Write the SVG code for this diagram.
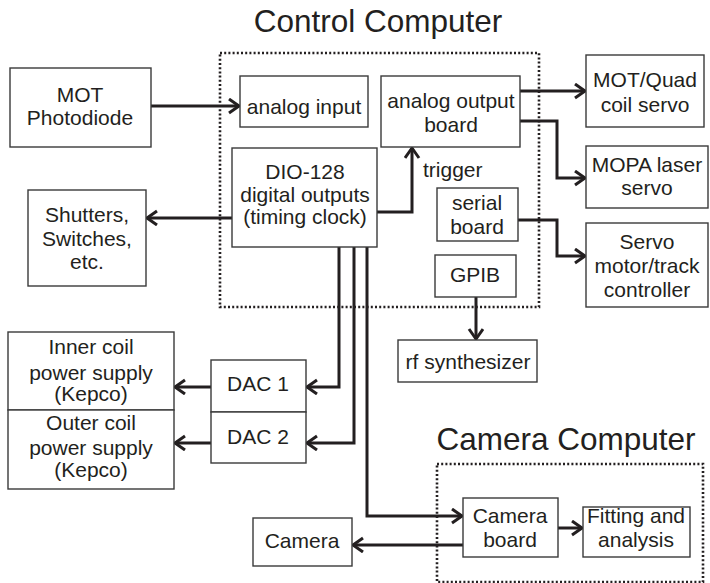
<svg xmlns="http://www.w3.org/2000/svg" width="710" height="583" viewBox="0 0 710 583">
<style>
  .box { fill: #fff; stroke: #3a3a3a; stroke-width: 1.4; }
  .dot { fill: none; stroke: #231f20; stroke-width: 2.6; stroke-dasharray: 2 2.2; }
  .t { font-family: "Liberation Sans", Arial, sans-serif; font-size: 21px; fill: #231f20; text-anchor: middle; }
  .title { font-family: "Liberation Sans", Arial, sans-serif; font-size: 31.5px; fill: #231f20; text-anchor: middle; }
  .c { fill: none; stroke: #231f20; stroke-width: 3; marker-end: url(#ah); }
  .cn { fill: none; stroke: #231f20; stroke-width: 3; }
</style>
<defs>
  <marker id="ah" markerUnits="userSpaceOnUse" markerWidth="14" markerHeight="18" refX="11" refY="8" orient="auto" viewBox="0 0 14 18">
    <path d="M1,1 L11,8 L1,15" fill="none" stroke="#231f20" stroke-width="3"/>
  </marker>
</defs>

<g id="control-computer">
  <rect class="dot" x="220" y="53" width="319" height="254"/>
  <text class="title" x="378" y="32">Control Computer</text>
</g>
<g id="camera-computer">
  <rect class="dot" x="437" y="464" width="266" height="118"/>
  <text class="title" x="566" y="450">Camera Computer</text>
</g>

<g id="connectors">
  <path class="c" d="M151,106 H239"/>
  <path class="c" d="M232,218 H147"/>
  <path class="c" d="M377,212 H412 V148"/>
  <path class="c" d="M520,91 H585"/>
  <path class="c" d="M520,121 H557 V178 H585"/>
  <path class="c" d="M518,220 H557 V256 H585"/>
  <path class="c" d="M476,297 V339"/>
  <path class="c" d="M339,247 V387 H307"/>
  <path class="c" d="M354,247 V443 H307"/>
  <path class="c" d="M367,247 V516 H462"/>
  <path class="c" d="M558,528 H582"/>
  <path class="c" d="M463,545 H353"/>
  <path class="c" d="M211,387 H175"/>
  <path class="c" d="M211,443 H175"/>
</g>

<g id="mot-photodiode">
  <rect class="box" x="10" y="68" width="141" height="79"/>
  <text class="t" x="80" y="102">MOT</text>
  <text class="t" x="80" y="125">Photodiode</text>
</g>
<g id="analog-input">
  <rect class="box" x="240" y="76" width="128" height="51"/>
  <text class="t" x="304" y="114">analog input</text>
</g>
<g id="analog-output">
  <rect class="box" x="381" y="76" width="139" height="71"/>
  <text class="t" x="451" y="108">analog output</text>
  <text class="t" x="451" y="132">board</text>
</g>
<g id="dio-128">
  <rect class="box" x="232" y="148" width="145" height="99"/>
  <text class="t" x="305" y="179">DIO-128</text>
  <text class="t" x="305" y="202">digital outputs</text>
  <text class="t" x="305" y="224">(timing clock)</text>
</g>
<g id="trigger-label">
  <text class="t" x="423" y="177" style="text-anchor:start">trigger</text>
</g>
<g id="serial-board">
  <rect class="box" x="437" y="188" width="81" height="53"/>
  <text class="t" x="477" y="210">serial</text>
  <text class="t" x="477" y="234">board</text>
</g>
<g id="gpib">
  <rect class="box" x="435" y="255" width="81" height="42"/>
  <text class="t" x="475" y="282">GPIB</text>
</g>
<g id="shutters">
  <rect class="box" x="28" y="190" width="118" height="96"/>
  <text class="t" x="87" y="222">Shutters,</text>
  <text class="t" x="87" y="246">Switches,</text>
  <text class="t" x="87" y="269">etc.</text>
</g>
<g id="mot-quad">
  <rect class="box" x="586" y="55" width="118" height="72"/>
  <text class="t" x="645" y="87">MOT/Quad</text>
  <text class="t" x="645" y="112">coil servo</text>
</g>
<g id="mopa">
  <rect class="box" x="586" y="146" width="122" height="62"/>
  <text class="t" x="647" y="172">MOPA laser</text>
  <text class="t" x="647" y="195">servo</text>
</g>
<g id="servo-motor">
  <rect class="box" x="586" y="223" width="122" height="84"/>
  <text class="t" x="647" y="249">Servo</text>
  <text class="t" x="647" y="273">motor/track</text>
  <text class="t" x="647" y="297">controller</text>
</g>
<g id="rf-synth">
  <rect class="box" x="398" y="340" width="139" height="42"/>
  <text class="t" x="468" y="369">rf synthesizer</text>
</g>
<g id="inner-coil">
  <rect class="box" x="8" y="332" width="166" height="78"/>
  <text class="t" x="91" y="354">Inner coil</text>
  <text class="t" x="91" y="380">power supply</text>
  <text class="t" x="91" y="401">(Kepco)</text>
</g>
<g id="outer-coil">
  <rect class="box" x="8" y="410" width="166" height="79"/>
  <text class="t" x="91" y="430">Outer coil</text>
  <text class="t" x="91" y="455">power supply</text>
  <text class="t" x="91" y="477">(Kepco)</text>
</g>
<g id="dac1">
  <rect class="box" x="211" y="360" width="95" height="52"/>
  <text class="t" x="258" y="391">DAC 1</text>
</g>
<g id="dac2">
  <rect class="box" x="211" y="412" width="95" height="51"/>
  <text class="t" x="258" y="444">DAC 2</text>
</g>
<g id="camera">
  <rect class="box" x="253" y="518" width="99" height="48"/>
  <text class="t" x="302" y="548">Camera</text>
</g>
<g id="camera-board">
  <rect class="box" x="463" y="498" width="95" height="59"/>
  <text class="t" x="510" y="523">Camera</text>
  <text class="t" x="510" y="547">board</text>
</g>
<g id="fitting">
  <rect class="box" x="583" y="507" width="107" height="50"/>
  <text class="t" x="636" y="523">Fitting and</text>
  <text class="t" x="636" y="547">analysis</text>
</g>
</svg>
